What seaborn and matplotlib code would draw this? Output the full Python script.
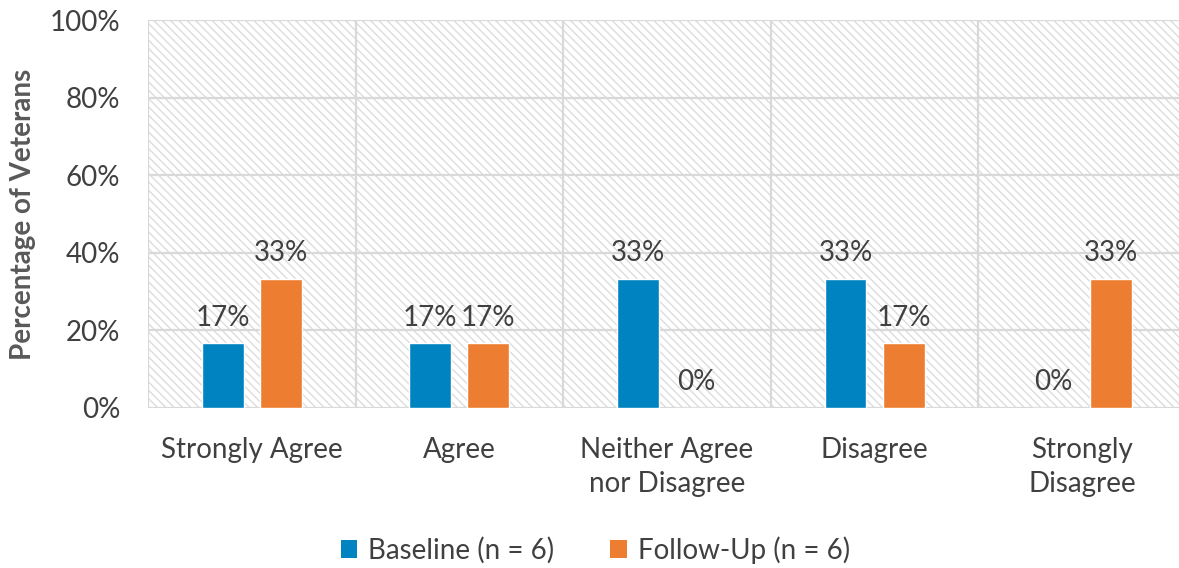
import pandas as pd
import matplotlib
matplotlib.use("Agg")
import matplotlib.pyplot as plt
from matplotlib.patches import Rectangle, Patch
import seaborn as sns

categories = ["Strongly Agree", "Agree", "Neither Agree\nnor Disagree", "Disagree", "Strongly\nDisagree"]
baseline = [16.67, 16.67, 33.33, 33.33, 0.0]
follow_up = [33.33, 16.67, 0.0, 16.67, 33.33]
series = ["Baseline (n = 6)", "Follow-Up (n = 6)"]
colors = ["#0083C1", "#ED7D31"]
yticks = [0, 20, 40, 60, 80, 100]

df = pd.DataFrame({
    "category": categories * 2,
    "pct": baseline + follow_up,
    "group": [series[0]] * len(categories) + [series[1]] * len(categories),
})

sns.set_theme(style="white")
plt.rcParams["font.family"] = ["Lato", "DejaVu Sans"]
plt.rcParams["hatch.linewidth"] = 1.0
text_color = "#404040"
grid_color = "#d9d9d9"

fig = plt.figure(figsize=(11.79, 5.68), dpi=100)
ax = fig.add_axes([0.1255, 0.2817, 0.8804, 0.683])

sns.barplot(data=df, x="category", y="pct", hue="group", order=categories,
            hue_order=series, palette=colors, width=0.56, gap=0.28,
            saturation=1, legend=False, ax=ax, zorder=3)

# hatched background
ax.add_patch(Rectangle((0, 0), 1, 1, transform=ax.transAxes, facecolor="white",
                       edgecolor="#dcdcdc", hatch="\\\\\\\\", linewidth=0, zorder=0))

ax.set_xlim(-0.5, len(categories) - 0.5)
ax.set_ylim(0, 100)
ax.set_yticks(yticks)
ax.set_yticklabels([f"{v}%" for v in yticks])

# gridlines
for v in yticks:
    ax.axhline(v, color=grid_color, lw=1.6, zorder=1)
for i in range(len(categories) + 1):
    ax.axvline(i - 0.5, color=grid_color, lw=1.6, zorder=1)

for container in ax.containers:
    ax.bar_label(container, labels=[f"{round(b.get_height())}%" for b in container],
                 padding=9, fontsize=20, color=text_color)

for s in ax.spines.values():
    s.set_visible(False)
ax.tick_params(axis="both", length=0, labelcolor=text_color, labelsize=20)
ax.tick_params(axis="y", pad=20)
ax.tick_params(axis="x", pad=21)
for lbl in ax.get_xticklabels():
    lbl.set_linespacing(1.35)
ax.set_xlabel("")
ax.set_ylabel("Percentage of Veterans", fontsize=20, fontweight="bold",
              color="#595959", labelpad=10)

handles = [Patch(facecolor=c, edgecolor="none") for c in colors]
fig.legend(handles, series, loc="center", bbox_to_anchor=(0.505, 0.032), ncol=2,
           frameon=False, fontsize=20, labelcolor=text_color, handlelength=0.6,
           handleheight=0.6, handletextpad=0.4, columnspacing=2.0)

fig.savefig("out.png", dpi=100)
